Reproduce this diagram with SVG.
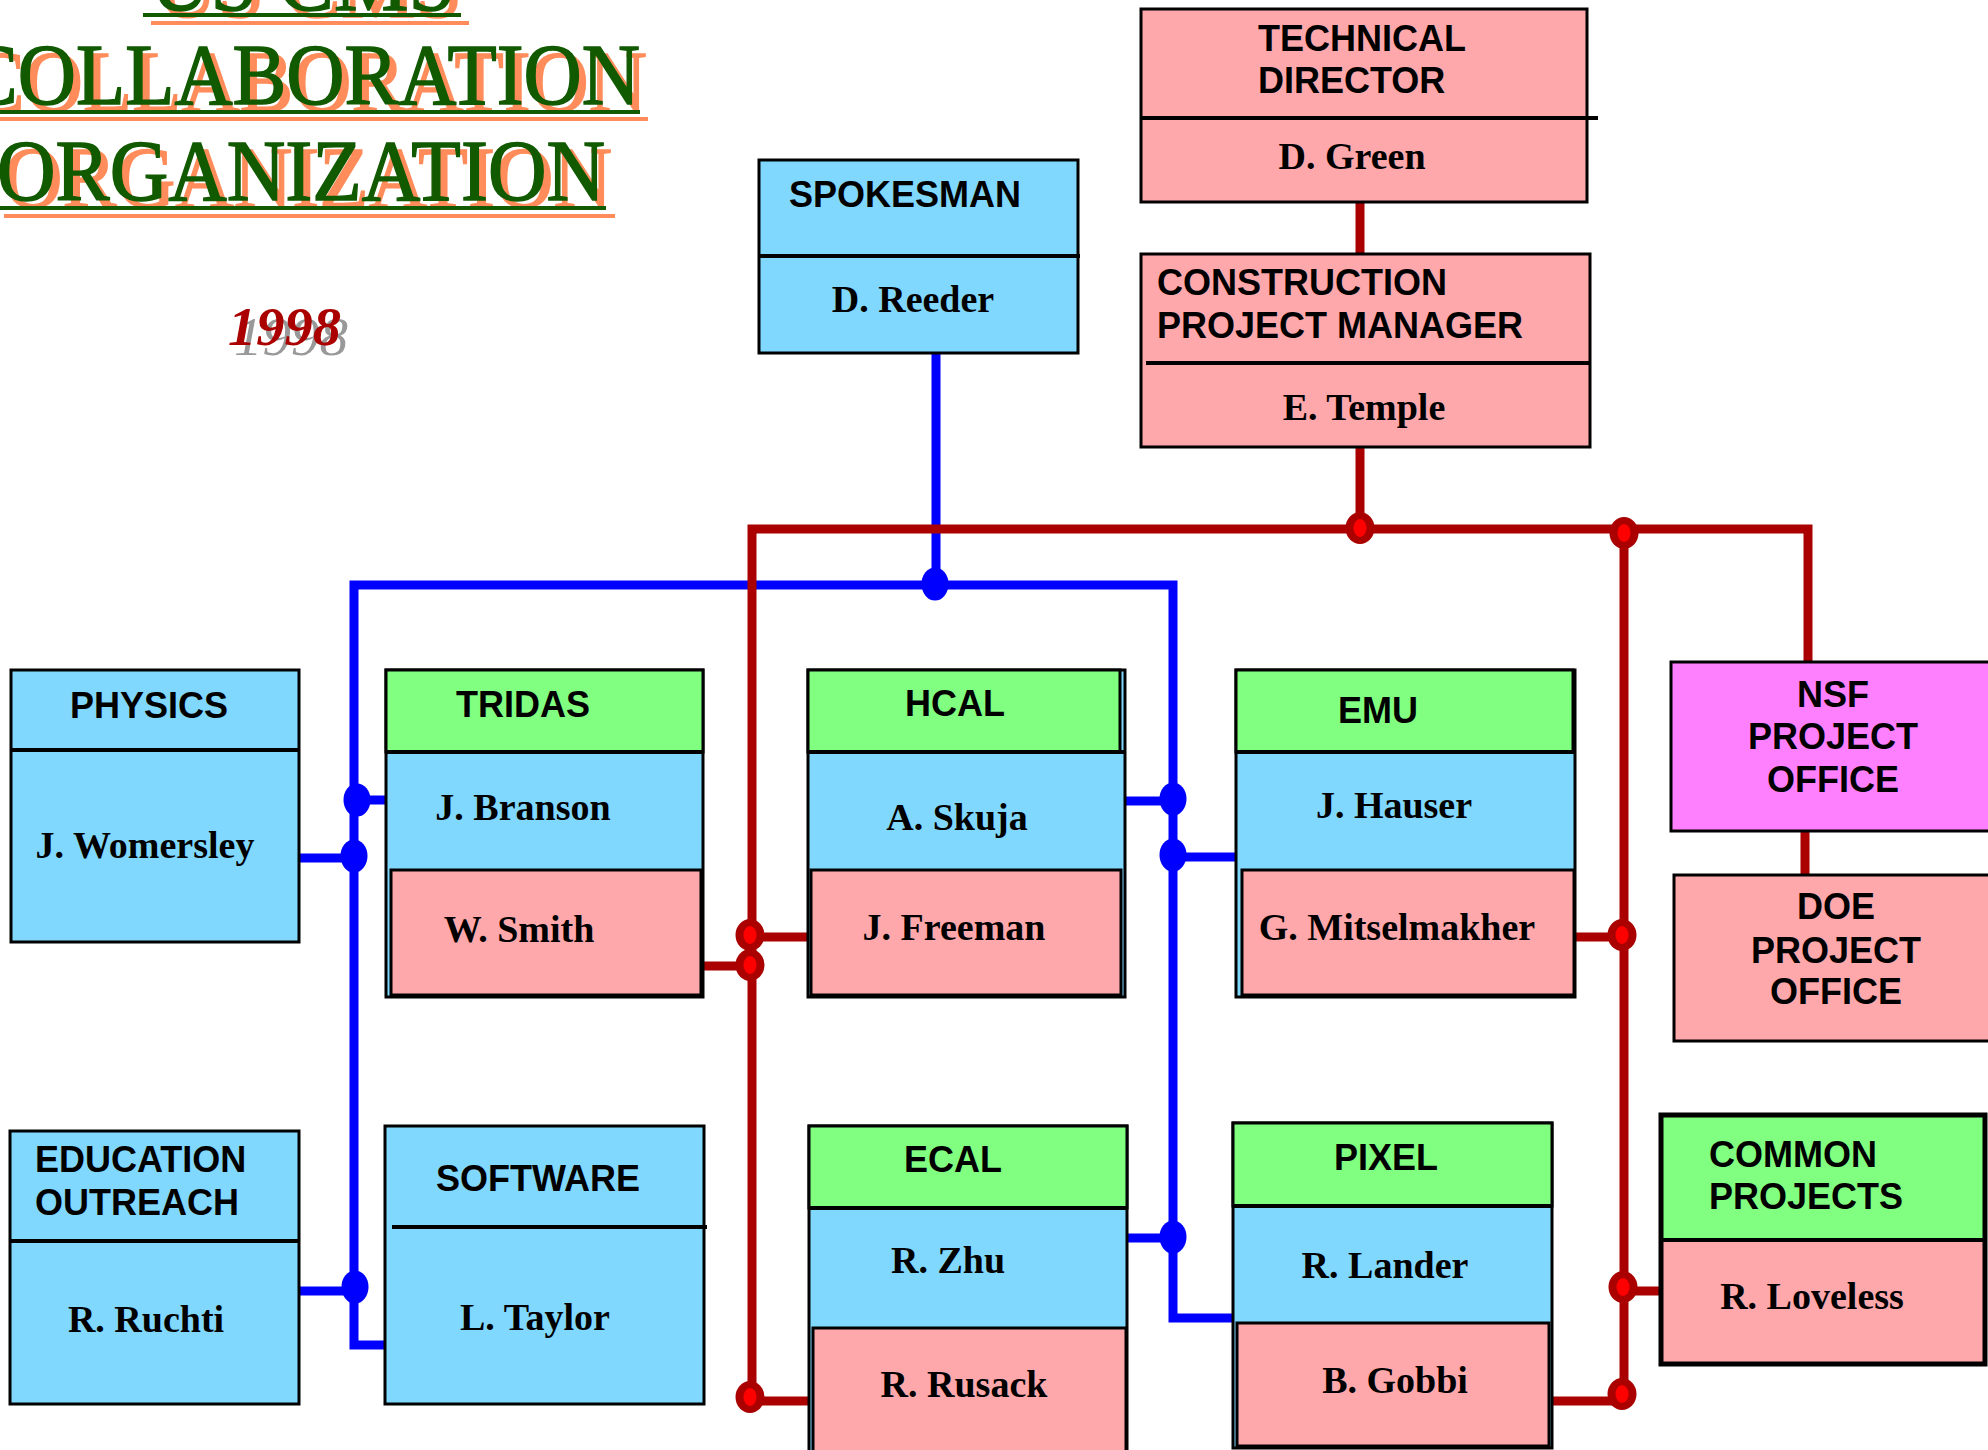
<svg xmlns="http://www.w3.org/2000/svg" width="1988" height="1450" viewBox="0 0 1988 1450">
<defs>
<style>
.bl{fill:#80D8FF;stroke:#000;stroke-width:3}
.pk{fill:#FFA8AC;stroke:#000;stroke-width:3}
.gr{fill:#80FF80;stroke:#000;stroke-width:3}
.mg{fill:#FF80FF;stroke:#000;stroke-width:3}
.dv{stroke:#000;stroke-width:4;fill:none}
.hd{font-family:"Liberation Sans",Arial,sans-serif;font-weight:bold;font-size:36px;fill:#000}
.nm{font-family:"Liberation Serif","Times New Roman",serif;font-weight:bold;font-size:38px;fill:#000;text-anchor:middle}
.c{text-anchor:middle}
.ttl{font-family:"Liberation Serif","Times New Roman",serif;font-size:86px;stroke-width:1.5}
.tg{fill:#125A00;stroke:#125A00}
.to{fill:#FF8C5A;stroke:#FF8C5A}
.blue{stroke:#0000FF;stroke-width:9;fill:none}
.red{stroke:#AA0000;stroke-width:9;fill:none}
.bd{fill:#0000FF}
.rdo{fill:#AA0000}
.rdi{fill:#FF0000}
</style>
</defs>
<rect width="1988" height="1450" fill="#fff"/>

<g id="title">
<text class="ttl to" x="157" y="17" textLength="305" lengthAdjust="spacingAndGlyphs">US CMS</text>
<text class="ttl tg" x="150" y="10" textLength="305" lengthAdjust="spacingAndGlyphs">US CMS</text>
<rect x="151" y="21" width="318" height="4" fill="#FF8C5A"/>
<rect x="143" y="13" width="318" height="4" fill="#125A00"/>
<text class="ttl to" x="-29" y="111" textLength="676" lengthAdjust="spacingAndGlyphs">COLLABORATION</text>
<text class="ttl tg" x="-36" y="104" textLength="676" lengthAdjust="spacingAndGlyphs">COLLABORATION</text>
<rect x="0" y="117" width="648" height="4" fill="#FF8C5A"/>
<rect x="0" y="110" width="640" height="4" fill="#125A00"/>
<text class="ttl to" x="4" y="207" textLength="608" lengthAdjust="spacingAndGlyphs">ORGANIZATION</text>
<text class="ttl tg" x="-3" y="200" textLength="608" lengthAdjust="spacingAndGlyphs">ORGANIZATION</text>
<rect x="4" y="214" width="611" height="4" fill="#FF8C5A"/>
<rect x="0" y="206" width="606" height="4" fill="#125A00"/>
<text x="234" y="355" font-family="Liberation Serif,serif" font-size="54" font-style="italic" fill="#999" textLength="114" lengthAdjust="spacingAndGlyphs">1998</text>
<text x="228" y="345" font-family="Liberation Serif,serif" font-size="54" font-weight="bold" font-style="italic" fill="#AA0000" textLength="113" lengthAdjust="spacingAndGlyphs">1998</text>
</g>

<g id="connectors">
<path class="blue" d="M936 339V585"/>
<path class="blue" d="M386 1345H354V585H1173V1318H1234"/>
<path class="blue" d="M354 800H386M299 858H354M299 1291H354M1125 801H1173M1173 857H1236M1127 1238H1173"/>
<path class="red" d="M1360 202V254M1360 447V529"/>
<path class="red" d="M752 1401V529H1808V662"/>
<path class="red" d="M1624 529V1396M1805 831V875"/>
<path class="red" d="M703 966H752M752 937H808M752 1401H809M1575 937H1624M1624 1291H1661M1550 1401H1624"/>
<g>
<ellipse class="bd" cx="935" cy="584" rx="13.5" ry="16.5"/>
<ellipse class="bd" cx="357" cy="800" rx="13.5" ry="16.5"/>
<ellipse class="bd" cx="354" cy="856" rx="13.5" ry="16.5"/>
<ellipse class="bd" cx="355" cy="1287" rx="13.5" ry="16.5"/>
<ellipse class="bd" cx="1173" cy="799" rx="13.5" ry="16.5"/>
<ellipse class="bd" cx="1173" cy="855" rx="13.5" ry="16.5"/>
<ellipse class="bd" cx="1173" cy="1237" rx="13.5" ry="16.5"/>
</g>
<g>
<ellipse class="rdo" cx="1360" cy="528" rx="14.5" ry="16"/><ellipse class="rdi" cx="1360" cy="528" rx="6.5" ry="9"/>
<ellipse class="rdo" cx="1624" cy="533" rx="14.5" ry="16"/><ellipse class="rdi" cx="1624" cy="533" rx="6.5" ry="9"/>
<ellipse class="rdo" cx="750" cy="935" rx="14.5" ry="16"/><ellipse class="rdi" cx="750" cy="935" rx="6.5" ry="9"/>
<ellipse class="rdo" cx="750" cy="965" rx="14.5" ry="16"/><ellipse class="rdi" cx="750" cy="965" rx="6.5" ry="9"/>
<ellipse class="rdo" cx="750" cy="1397" rx="14.5" ry="16"/><ellipse class="rdi" cx="750" cy="1397" rx="6.5" ry="9"/>
<ellipse class="rdo" cx="1622" cy="935" rx="14.5" ry="16"/><ellipse class="rdi" cx="1622" cy="935" rx="6.5" ry="9"/>
<ellipse class="rdo" cx="1623" cy="1287" rx="14.5" ry="16"/><ellipse class="rdi" cx="1623" cy="1287" rx="6.5" ry="9"/>
<ellipse class="rdo" cx="1622" cy="1394" rx="14.5" ry="16"/><ellipse class="rdi" cx="1622" cy="1394" rx="6.5" ry="9"/>
</g>
</g>

<g id="spokesman">
<rect class="bl" x="759" y="160" width="319" height="193"/>
<path class="dv" d="M759 256H1080"/>
<text class="hd" x="789" y="207">SPOKESMAN</text>
<text class="nm" x="913" y="312">D. Reeder</text>
</g>

<g id="technical-director">
<rect class="pk" x="1141" y="9" width="446" height="193"/>
<path class="dv" d="M1141 118H1598"/>
<text class="hd" x="1258" y="51">TECHNICAL</text>
<text class="hd" x="1258" y="93">DIRECTOR</text>
<text class="nm" x="1352" y="169">D. Green</text>
</g>

<g id="construction-pm">
<rect class="pk" x="1141" y="254" width="449" height="193"/>
<path class="dv" d="M1146 363H1590"/>
<text class="hd" x="1157" y="295">CONSTRUCTION</text>
<text class="hd" x="1157" y="338">PROJECT MANAGER</text>
<text class="nm" x="1364" y="420">E. Temple</text>
</g>

<g id="physics">
<rect class="bl" x="11" y="670" width="288" height="272"/>
<path class="dv" d="M11 750H299"/>
<text class="hd c" x="149" y="718">PHYSICS</text>
<text class="nm" x="145" y="858">J. Womersley</text>
</g>

<g id="tridas">
<rect class="bl" x="386" y="670" width="317" height="327"/>
<rect class="gr" x="386" y="670" width="317" height="82"/>
<path class="dv" d="M386 752H703" stroke-width="5"/>
<rect class="pk" x="391" y="870" width="310" height="125"/>
<text class="hd c" x="523" y="717">TRIDAS</text>
<text class="nm" x="523" y="820">J. Branson</text>
<text class="nm" x="519" y="942">W. Smith</text>
</g>

<g id="hcal">
<rect class="bl" x="808" y="670" width="317" height="327"/>
<rect class="gr" x="808" y="670" width="312" height="82"/>
<path class="dv" d="M808 752H1125" stroke-width="5"/>
<rect class="pk" x="811" y="870" width="310" height="125"/>
<text class="hd c" x="955" y="716">HCAL</text>
<text class="nm" x="957" y="830">A. Skuja</text>
<text class="nm" x="954" y="940">J. Freeman</text>
</g>

<g id="emu">
<rect class="bl" x="1236" y="670" width="339" height="327"/>
<rect class="gr" x="1236" y="670" width="337" height="82"/>
<path class="dv" d="M1236 752H1575" stroke-width="5"/>
<rect class="pk" x="1242" y="870" width="332" height="125"/>
<text class="hd c" x="1378" y="723">EMU</text>
<text class="nm" x="1394" y="818">J. Hauser</text>
<text class="nm" x="1397" y="940">G. Mitselmakher</text>
</g>

<g id="nsf">
<rect class="mg" x="1671" y="662" width="330" height="169"/>
<text class="hd c" x="1833" y="707">NSF</text>
<text class="hd c" x="1833" y="749">PROJECT</text>
<text class="hd c" x="1833" y="792">OFFICE</text>
</g>

<g id="doe">
<rect class="pk" x="1674" y="875" width="330" height="166"/>
<text class="hd c" x="1836" y="919">DOE</text>
<text class="hd c" x="1836" y="963">PROJECT</text>
<text class="hd c" x="1836" y="1004">OFFICE</text>
</g>

<g id="education">
<rect class="bl" x="10" y="1131" width="289" height="273"/>
<path class="dv" d="M10 1241H299"/>
<text class="hd" x="35" y="1172">EDUCATION</text>
<text class="hd" x="35" y="1215">OUTREACH</text>
<text class="nm" x="146" y="1332">R. Ruchti</text>
</g>

<g id="software">
<rect class="bl" x="385" y="1126" width="319" height="278"/>
<path class="dv" d="M392 1227H707"/>
<text class="hd c" x="538" y="1191">SOFTWARE</text>
<text class="nm" x="535" y="1330">L. Taylor</text>
</g>

<g id="ecal">
<rect class="bl" x="809" y="1126" width="318" height="340"/>
<rect class="gr" x="809" y="1126" width="318" height="82"/>
<path class="dv" d="M809 1208H1127" stroke-width="5"/>
<rect class="pk" x="813" y="1328" width="313" height="140"/>
<text class="hd c" x="953" y="1172">ECAL</text>
<text class="nm" x="948" y="1273">R. Zhu</text>
<text class="nm" x="964" y="1397">R. Rusack</text>
</g>

<g id="pixel">
<rect class="bl" x="1233" y="1123" width="319" height="325"/>
<rect class="gr" x="1233" y="1123" width="319" height="83"/>
<path class="dv" d="M1233 1206H1552" stroke-width="5"/>
<rect class="pk" x="1237" y="1323" width="312" height="123"/>
<text class="hd c" x="1386" y="1170">PIXEL</text>
<text class="nm" x="1385" y="1278">R. Lander</text>
<text class="nm" x="1395" y="1393">B. Gobbi</text>
</g>

<g id="common-projects">
<rect x="1661" y="1115" width="324" height="125" fill="#80FF80"/>
<rect x="1661" y="1240" width="324" height="124" fill="#FFA8AC"/>
<path class="dv" d="M1663 1240H1985" stroke-width="3"/>
<rect x="1661" y="1115" width="324" height="249" fill="none" stroke="#000" stroke-width="5"/>
<text class="hd" x="1709" y="1167">COMMON</text>
<text class="hd" x="1709" y="1209">PROJECTS</text>
<text class="nm" x="1812" y="1309">R. Loveless</text>
</g>
</svg>
